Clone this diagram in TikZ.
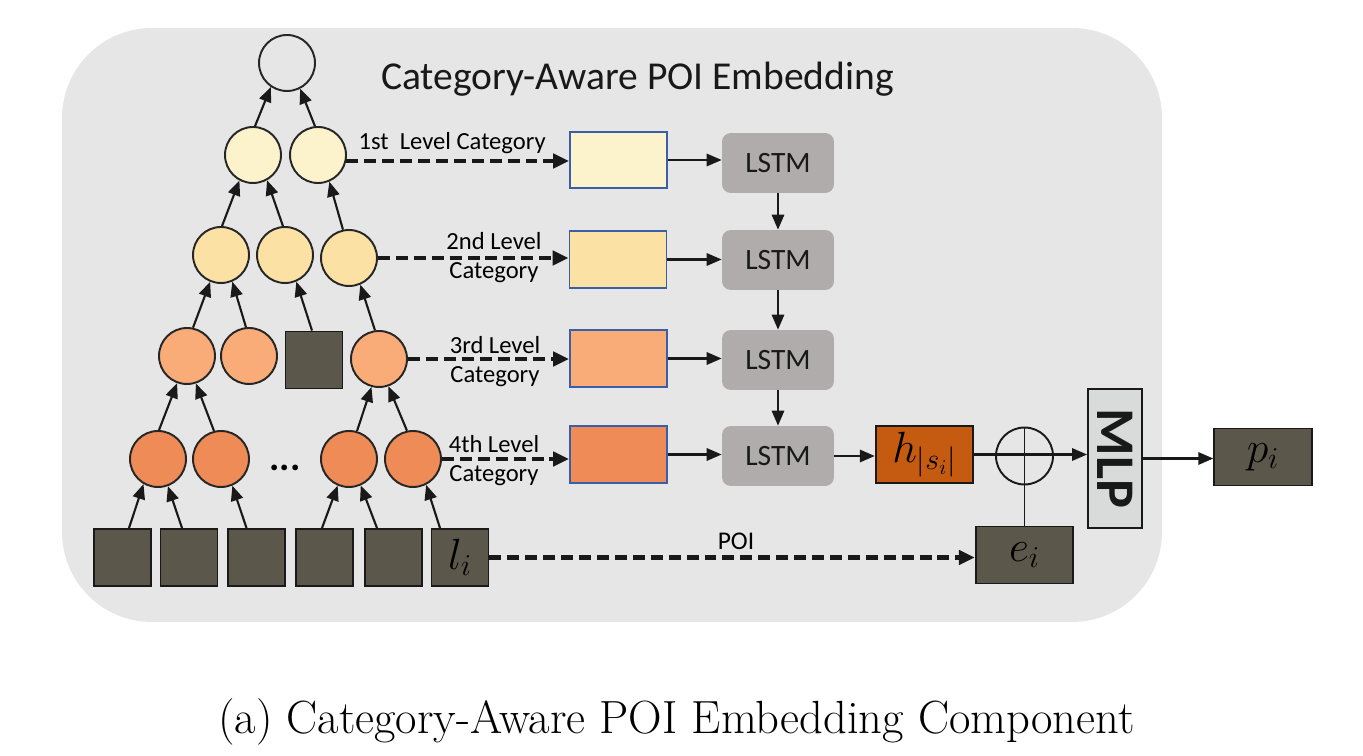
\documentclass[tikz,border=0pt]{standalone}
\usepackage{fontspec}
\newfontfamily\calfont{Carlito}
\usetikzlibrary{arrows.meta,calc}
\definecolor{bgc}{HTML}{E6E6E6}
\definecolor{lvA}{HTML}{FCF2CC}
\definecolor{lvB}{HTML}{FCE1A4}
\definecolor{lvC}{HTML}{F9AC77}
\definecolor{lvD}{HTML}{EE8B57}
\definecolor{darkbox}{HTML}{5B574B}
\definecolor{lstmc}{HTML}{AFACAB}
\definecolor{hcol}{HTML}{C55A11}
\definecolor{mlpc}{HTML}{D9DADA}
\definecolor{rborder}{HTML}{3A5FA8}
\begin{document}
\begin{tikzpicture}[x=0.02cm,y=-0.02cm,
  circ/.style={circle,draw=black!85,line width=1.1pt,minimum size=1.12cm,inner sep=0pt},
  sqbox/.style={rectangle,draw=black!90,fill=darkbox,line width=1.1pt,minimum size=1.14cm,inner sep=0pt},
  embbox/.style={rectangle,draw=rborder,line width=1.1pt,minimum width=1.94cm,minimum height=1.13cm,inner sep=0pt},
  lstmbox/.style={rectangle,rounded corners=5pt,fill=lstmc,minimum width=2.24cm,minimum height=1.2cm,inner sep=0pt,font=\calfont\fontsize{16.8}{19}\selectfont,text=black!90},
  outbox/.style={rectangle,draw=black!90,line width=1.1pt,minimum width=1.95cm,minimum height=1.14cm,inner sep=0pt,font=\fontsize{25}{28}\selectfont},
  arr/.style={-{Triangle[length=8.5pt,width=7pt]},line width=1.2pt,black!90},
  dasharr/.style={-{Triangle[length=9pt,width=8pt]},line width=2.3pt,dash pattern=on 6.8pt off 3.4pt,black!90},
  lbl/.style={font=\calfont\fontsize{14}{16.5}\selectfont,inner sep=0pt,align=center}
]
\useasboundingbox (0,0) rectangle (1363,756);
\fill[bgc,rounded corners=1.8cm] (62,28) rectangle (1162,622);
\node[font=\calfont\fontsize{22.5}{26}\selectfont,anchor=base,text=black!90] (title) at (637.5,90) {Category-Aware POI Embedding};

% tree
\node[circ] (top) at (287,63) {};
\node[circ,fill=lvA] (c11) at (253,155) {};
\node[circ,fill=lvA] (c12) at (318,155) {};
\node[circ,fill=lvB] (c21) at (221,255) {};
\node[circ,fill=lvB] (c22) at (285,255) {};
\node[circ,fill=lvB] (c23) at (349,258) {};
\node[circ,fill=lvC] (c31) at (187,356) {};
\node[circ,fill=lvC] (c32) at (249,356) {};
\node[sqbox] (sq3) at (314,360) {};
\node[circ,fill=lvC] (c34) at (379,359) {};
\node[circ,fill=lvD] (c41) at (158,459) {};
\node[circ,fill=lvD] (c42) at (221,459) {};
\node[circ,fill=lvD] (c43) at (349,459) {};
\node[circ,fill=lvD] (c44) at (413,459) {};
\node[font=\calfont\bfseries\fontsize{22}{24}\selectfont] (dots) at (285,468) {...};
\node[sqbox] (s1) at (122.5,557.5) {};
\node[sqbox] (s2) at (189,557.5) {};
\node[sqbox] (s3) at (256.5,557.5) {};
\node[sqbox] (s4) at (324.5,557.5) {};
\node[sqbox] (s5) at (393.5,557.5) {};
\node[sqbox,font=\fontsize{25}{28}\selectfont] (s6) at (460,557.5) {$l_i$};

\draw[arr] ($(s1.north)+(6.5,0)$) -- (c41.240);
\draw[arr] ($(s2.north)+(-7,0)$) -- (c41.290);
\draw[arr] ($(s3.north)+(-10,0)$) -- (c42.293);
\draw[arr] ($(s4.north)+(-2.5,0)$) -- (c43.247);
\draw[arr] ($(s5.north)+(-16.5,0)$) -- (c43.294);
\draw[arr] ($(s6.north)+(-20,0)$) -- (c44.297);
\draw[arr] (c41.88) -- (c31.250);
\draw[arr] (c42.104) -- (c31.288);
\draw[arr] (c43.74) -- (c34.255);
\draw[arr] (c44.102) -- (c34.289);
\draw[arr] (c31.78) -- (c21.248);
\draw[arr] (c32.96) -- (c21.293);
\draw[arr] ($(sq3.north)+(-2,0)$) -- (c22.293);
\draw[arr] (c34.98) -- (c23.293);
\draw[arr] (c21.88) -- (c11.242);
\draw[arr] (c22.94) -- (c11.299);
\draw[arr] (c23.102) -- (c12.293);
\draw[arr] (c11.86) -- (top.236);
\draw[arr] (c12.96) -- (top.297);

% embedding boxes
\node[embbox,fill=lvA] (r1) at (618.5,160) {};
\node[embbox,fill=lvB] (r2) at (618,259.5) {};
\node[embbox,fill=lvC] (r3) at (618.5,358.5) {};
\node[embbox,fill=lvD] (r4) at (618.5,454.5) {};

\draw[dasharr] (c12.-12) -- (c12.-12 -| r1.west);
\draw[dasharr] (c23.east) -- (c23.east -| r2.west);
\draw[dasharr] (c34.east) -- (c34.east -| r3.west);
\draw[dasharr] (c44.east) -- (c44.east -| r4.west);

\node[lbl,anchor=base east] (t1) at (546,150) {1st\ \ Level Category};
\node[lbl] (t2) at (494,258) {2nd Level\\Category};
\node[lbl] (t3) at (495,362) {3rd Level\\Category};
\node[lbl] (t4) at (494,461) {4th Level\\Category};

% LSTMs
\node[lstmbox] (L1) at (778,163) {LSTM};
\node[lstmbox] (L2) at (778,260) {LSTM};
\node[lstmbox] (L3) at (778,360) {LSTM};
\node[lstmbox] (L4) at (778,456) {LSTM};
\draw[arr] (r1.east) -- (r1.east -| L1.west);
\draw[arr] (r2.east) -- (r2.east -| L2.west);
\draw[arr] (r3.east) -- (r3.east -| L3.west);
\draw[arr] (r4.east) -- (r4.east -| L4.west);
\draw[arr] (L1.south) -- (L2.north);
\draw[arr] (L2.south) -- (L3.north);
\draw[arr] (L3.south) -- (L4.north);

% output part
\node[outbox,fill=hcol] (h) at (924.5,454.5) {$h_{|s_i|}$};
\node[circle,draw=black!90,line width=1.1pt,minimum size=1.14cm,inner sep=0pt] (ox) at (1024.5,456) {};
\node[rectangle,draw=black!90,fill=mlpc,line width=1.1pt,minimum width=1.08cm,minimum height=2.78cm,inner sep=0pt] (mlp) at (1115,458.5) {};
\node[rotate=-90,font=\calfont\bfseries\fontsize{31}{33}\selectfont,text=black!90] (mlpt) at (mlp.center) {MLP};
\node[outbox,fill=darkbox] (e) at (1024.5,555) {$e_i$};
\node[outbox,fill=darkbox] (p) at (1263,457) {$p_i$};

\draw[arr] (L4.east) -- (L4.east -| h.west);
\draw[arr] (h.east) -- (h.east -| mlp.west);
\draw[line width=1.1pt,black!90] (e.north) -- (ox.north);
\draw[arr] (mlp.east) -- (mlp.east -| p.west);
\draw[dasharr] (s6.east) -- (s6.east -| e.west);
\node[font=\calfont\fontsize{14.5}{17}\selectfont,anchor=base] (poi) at (736,550) {POI};

\node[font=\fontsize{26.5}{30}\selectfont,anchor=base] (cap) at (676.5,733) {(a) Category-Aware POI Embedding Component};
\end{tikzpicture}
\end{document}
